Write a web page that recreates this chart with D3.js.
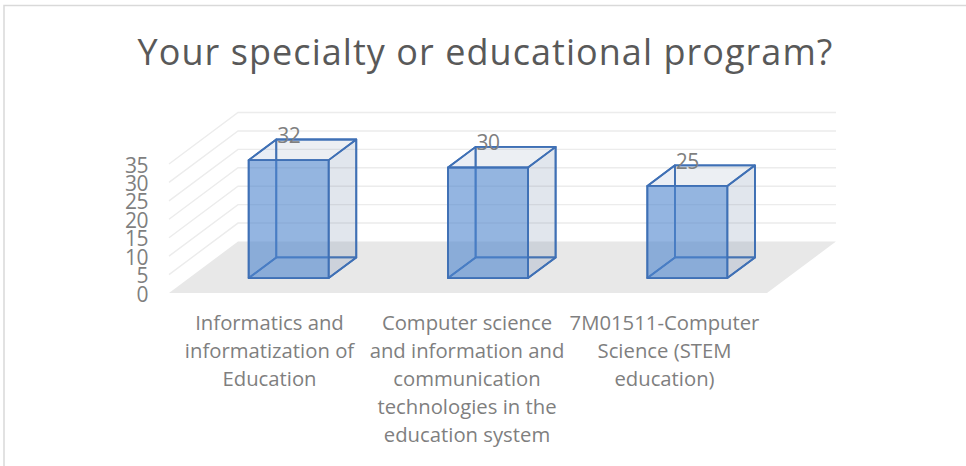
<!DOCTYPE html>
<html>
<head>
<meta charset="utf-8">
<script src="https://cdn.jsdelivr.net/npm/d3@7"></script>
<style>
  html, body { margin: 0; padding: 0; background: #fff; }
  svg { display: block; }
  text { font-family: "Open Sans", sans-serif; }
</style>
</head>
<body>
<div id="chart"></div>
<script>
const categories = [
  ['Informatics and', 'informatization of', 'Education'],
  ['Computer science', 'and information and', 'communication', 'technologies in the', 'education system'],
  ['7M01511-Computer', 'Science (STEM', 'education)']
];
const values = [32, 30, 25];
const yTicks = [0, 5, 10, 15, 20, 25, 30, 35];
const title = 'Your specialty or educational program?';

const width = 966, height = 466;

const svg = d3.select('#chart').append('svg')
  .attr('width', width)
  .attr('height', height);

// Frame
svg.append('path')
  .attr('d', `M4,${height}V5.5H${width}`)
  .attr('fill', 'none')
  .attr('stroke', '#d9d9d9')
  .attr('stroke-width', 1.5);

// Scales: x along the front edge of the floor, depth runs front to back, y up the wall
const xScale = d3.scaleBand().domain(d3.range(values.length)).range([169, 767]);
const labelX = d3.scalePoint().domain(d3.range(values.length)).range([269.5, 664.5]);
const depthX = d3.scaleLinear().domain([0, 1]).range([0, 69]);
const depthY = d3.scaleLinear().domain([0, 1]).range([293, 241.5]);
const yScale = d3.scaleLinear().domain([0, 35]).range([0, 129]);

// Project a point (x on the front edge, depth 0..1, value) to the screen
function project(x, depth, value) {
  return [x + depthX(depth), depthY(depth) - yScale(value)];
}
const poly = pts => 'M' + pts.map(p => p.join(',')).join('L') + 'Z';

const x0 = xScale.range()[0], x1 = xScale.range()[1];

// Floor
svg.append('path')
  .attr('d', poly([project(x0, 0, 0), project(x1, 0, 0), project(x1, 1, 0), project(x0, 1, 0)]))
  .attr('fill', '#e8e8e8');

// Gridlines on side wall and back wall
yTicks.filter(d => d > 0).forEach(t => {
  svg.append('path')
    .attr('d', d3.line()([project(x0, 0, t), project(x0, 1, t), project(x1, 1, t)]))
    .attr('fill', 'none')
    .attr('stroke', '#ececec')
    .attr('stroke-width', 1.4);
});

// Axis labels
svg.selectAll('.ytick')
  .data(yTicks)
  .enter().append('text')
  .attr('class', 'ytick')
  .attr('x', 148)
  .attr('y', d => project(x0, 0, d)[1] + 8.5)
  .attr('text-anchor', 'end')
  .attr('fill', '#7f7f7f')
  .style('font-size', '21px')
  .style('letter-spacing', '-0.5px')
  .text(d => d);

// Bars
const frontD = 0.29, backD = 0.69, barHalf = 40;
const barG = svg.selectAll('.bar')
  .data(values)
  .enter().append('g')
  .attr('class', 'bar');

function face(sel, fn, fill, opacity) {
  sel.append('path')
    .attr('d', (d, i) => {
      const c = xScale(i) + xScale.bandwidth() / 2;
      return poly(fn(c - barHalf, c + barHalf, d));
    })
    .attr('fill', fill)
    .attr('fill-opacity', opacity)
    .attr('stroke', '#3f70b5')
    .attr('stroke-width', 1.8)
    .attr('stroke-linejoin', 'round');
}

// back, floor, left first so they show through the front
face(barG, (l, r, v) => [project(l, backD, 0), project(r, backD, 0), project(r, backD, v), project(l, backD, v)], '#6f86a8', 0.08);
face(barG, (l, r, v) => [project(l, frontD, 0), project(r, frontD, 0), project(r, backD, 0), project(l, backD, 0)], '#5b85c0', 0.08);
face(barG, (l, r, v) => [project(l, frontD, 0), project(l, backD, 0), project(l, backD, v), project(l, frontD, v)], '#5b85c0', 0.08);
face(barG, (l, r, v) => [project(r, frontD, 0), project(r, backD, 0), project(r, backD, v), project(r, frontD, v)], '#6f86a8', 0.14);
face(barG, (l, r, v) => [project(l, frontD, v), project(r, frontD, v), project(r, backD, v), project(l, backD, v)], '#6f86a8', 0.06);
face(barG, (l, r, v) => [project(l, frontD, 0), project(r, frontD, 0), project(r, frontD, v), project(l, frontD, v)], '#4f86cf', 0.58);

// Data labels
svg.selectAll('.dlabel')
  .data(values)
  .enter().append('text')
  .attr('class', 'dlabel')
  .attr('x', (d, i) => project(xScale(i) + xScale.bandwidth() / 2, frontD, d)[0])
  .attr('y', d => project(0, frontD, d)[1] - 17)
  .attr('text-anchor', 'middle')
  .attr('fill', '#7f7f7f')
  .style('font-size', '21px')
  .style('letter-spacing', '-0.5px')
  .text(d => d);

// Category labels
categories.forEach((lines, i) => {
  const g = svg.append('text')
    .attr('text-anchor', 'middle')
    .attr('fill', '#7f7f7f')
    .style('font-size', '20.3px');
  lines.forEach((line, j) => {
    g.append('tspan')
      .attr('x', labelX(i))
      .attr('y', 330 + j * 28)
      .text(line);
  });
});

// Title
svg.append('text')
  .attr('x', 485.5)
  .attr('y', 65)
  .attr('text-anchor', 'middle')
  .attr('fill', '#595959')
  .style('font-size', '36px')
  .style('letter-spacing', '1.05px')
  .text(title);
</script>
</body>
</html>
